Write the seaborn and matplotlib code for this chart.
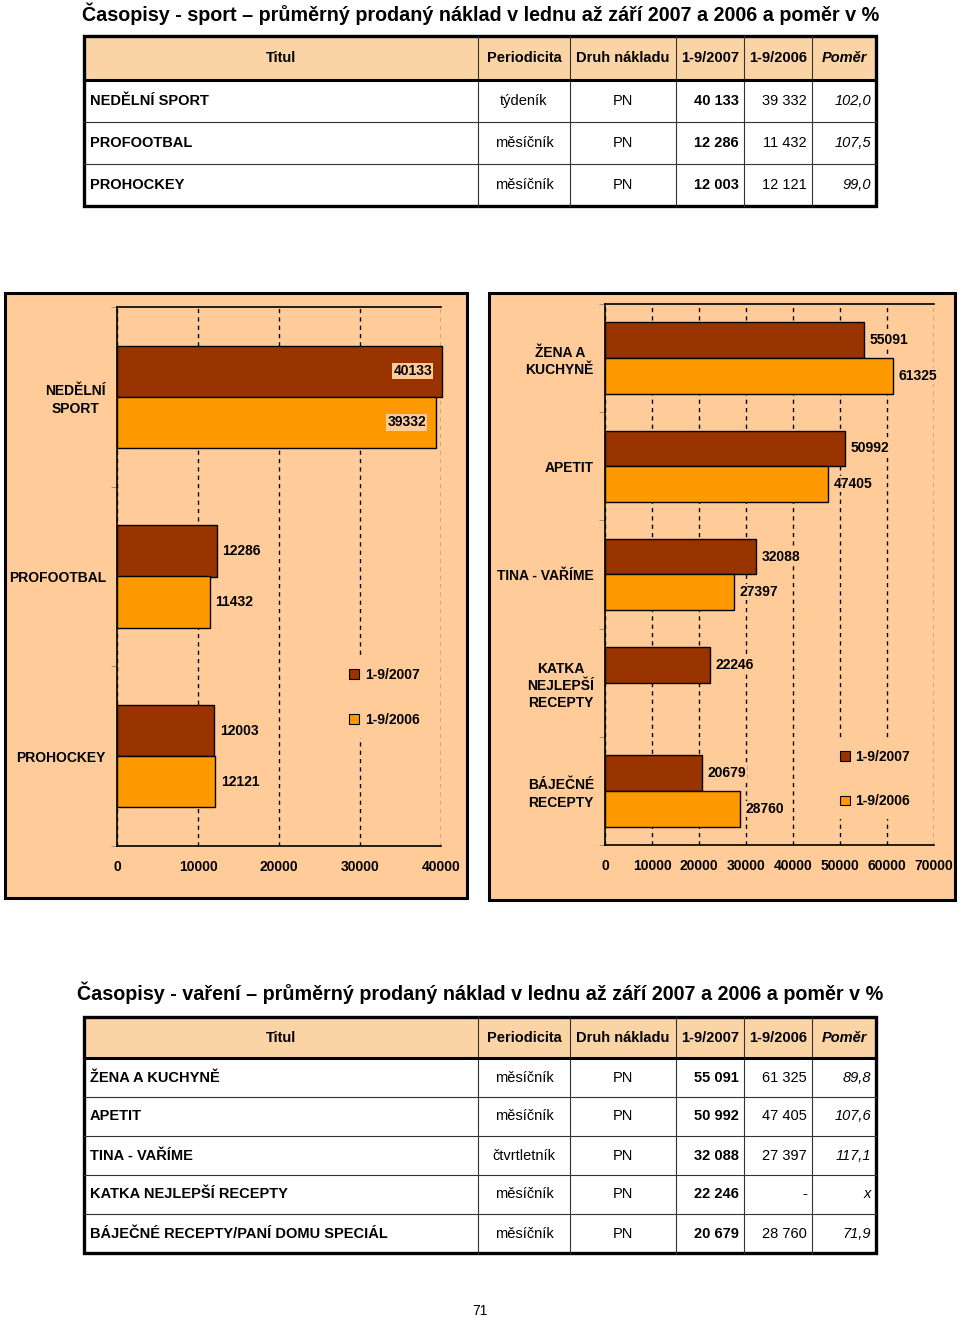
import matplotlib
matplotlib.use('Agg')
import matplotlib.pyplot as plt
from matplotlib.patches import Rectangle, Patch
import numpy as np
import pandas as pd
import seaborn as sns

# data
sport_titles = ['NEDĚLNÍ SPORT', 'PROFOOTBAL', 'PROHOCKEY']
sport_labels = ['NEDĚLNÍ\nSPORT', 'PROFOOTBAL', 'PROHOCKEY']
sport_period = ['týdeník', 'měsíčník', 'měsíčník']
sport_2007 = [40133, 12286, 12003]
sport_2006 = [39332, 11432, 12121]

food_titles = ['ŽENA A KUCHYNĚ', 'APETIT', 'TINA - VAŘÍME',
               'KATKA NEJLEPŠÍ RECEPTY', 'BÁJEČNÉ RECEPTY/PANÍ DOMU SPECIÁL']
food_labels = ['ŽENA A\nKUCHYNĚ', 'APETIT', 'TINA - VAŘÍME',
               'KATKA\nNEJLEPŠÍ\nRECEPTY', 'BÁJEČNÉ\nRECEPTY']
food_period = ['měsíčník', 'měsíčník', 'čtvrtletník', 'měsíčník', 'měsíčník']
food_2007 = [55091, 50992, 32088, 22246, 20679]
food_2006 = [61325, 47405, 27397, None, 28760]

periods = ['1-9/2007', '1-9/2006']
header = ['Titul', 'Periodicita', 'Druh nákladu', '1-9/2007', '1-9/2006', 'Poměr']
title_sport = 'Časopisy - sport – průměrný prodaný náklad v lednu až září 2007 a 2006 a poměr v %'
title_food = 'Časopisy - vaření – průměrný prodaný náklad v lednu až září 2007 a 2006 a poměr v %'

W, H = 960, 1318
FONT = ['Liberation Sans', 'DejaVu Sans']
dark = '#993300'
orange = '#FF9900'
panel = '#FFCC99'
head_fill = '#FBD4A6'
col_edges = [84, 478, 570, 676, 744, 812, 876]

plt.rcParams['font.family'] = FONT

fig = plt.figure(figsize=(W / 100, H / 100), dpi=100)
page = fig.add_axes([0, 0, 1, 1])
page.set_xlim(0, W)
page.set_ylim(H, 0)
page.axis('off')


def fig_rect(x0, y0, x1, y1):
    return [x0 / W, 1 - y1 / H, (x1 - x0) / W, (y1 - y0) / H]


def fmt(v):
    return '-' if v is None else f'{v:,}'.replace(',', ' ')


def ratio(a, b):
    return 'x' if b is None else f'{a / b * 100:.1f}'.replace('.', ',')


def draw_table(top, head_h, row_h, titles, period, v07, v06):
    n = len(titles)
    left, right = col_edges[0], col_edges[-1]
    bottom = top + head_h + n * row_h
    page.add_patch(Rectangle((left, top), right - left, head_h,
                             facecolor=head_fill, edgecolor='none'))
    for i in range(1, n):
        y = top + head_h + i * row_h
        page.plot([left, right], [y, y], color='#333333', lw=0.8)
    for x in col_edges[1:-1]:
        page.plot([x, x], [top, bottom], color='#333333', lw=0.8)
    page.plot([left, right], [top + head_h] * 2, color='black', lw=2.2)
    page.add_patch(Rectangle((left, top), right - left, bottom - top,
                             fill=False, edgecolor='black', lw=2.4))

    yc = top + head_h / 2
    for j, h in enumerate(header):
        xc = (col_edges[j] + col_edges[j + 1]) / 2
        page.text(xc, yc, h, ha='center', va='center', fontsize=10.5,
                  fontweight='bold', style='italic' if h == 'Poměr' else 'normal')

    for i in range(n):
        y = top + head_h + (i + 0.5) * row_h
        page.text(90, y, titles[i], ha='left', va='center', fontsize=10.5, fontweight='bold')
        page.text((col_edges[1] + col_edges[2]) / 2, y, period[i], ha='center', va='center', fontsize=10.5)
        page.text((col_edges[2] + col_edges[3]) / 2, y, 'PN', ha='center', va='center', fontsize=10.5)
        page.text(col_edges[4] - 5, y, fmt(v07[i]), ha='right', va='center', fontsize=10.5, fontweight='bold')
        page.text(col_edges[5] - 5, y, fmt(v06[i]), ha='right', va='center', fontsize=10.5)
        page.text(col_edges[6] - 5, y, ratio(v07[i], v06[i]), ha='right', va='center',
                  fontsize=10.5, style='italic')


def draw_chart(rect, labels, v07, v06, xmax, width, leg_anchor):
    n = len(labels)
    ax = fig.add_axes(fig_rect(*rect))
    df = pd.DataFrame({
        'titul': labels * 2,
        'obdobi': [periods[0]] * n + [periods[1]] * n,
        'naklad': pd.array(list(v07) + list(v06), dtype='Float64').astype(float),
    })
    sns.barplot(data=df, x='naklad', y='titul', hue='obdobi', hue_order=periods,
                order=labels, palette=[dark, orange], orient='h', width=width,
                saturation=1, errorbar=None, edgecolor='black', linewidth=1, ax=ax)

    box = dict(boxstyle='square,pad=0.08', facecolor=panel, edgecolor='none')
    for cont in ax.containers:
        for bar in cont:
            w = bar.get_width()
            if not np.isfinite(w) or w <= 0:
                continue
            bar.set_clip_on(False)
            y = bar.get_y() + bar.get_height() / 2
            if w > 0.9 * xmax:
                ax.annotate(f'{int(w)}', (w, y), xytext=(-7, 0), textcoords='offset points',
                            ha='right', va='center', fontsize=10, fontweight='bold',
                            bbox=box, annotation_clip=False)
            else:
                ax.annotate(f'{int(w)}', (w, y), xytext=(4, 0), textcoords='offset points',
                            ha='left', va='center', fontsize=10, fontweight='bold',
                            bbox=box, annotation_clip=False)

    ax.set_xlim(0, xmax)
    ax.set_ylim(n - 0.5, -0.5)
    ax.set_xticks(range(0, xmax + 1, 10000))
    ax.set_yticks(np.arange(-0.5, n), minor=True)
    ax.set_facecolor('none')
    ax.set_axisbelow(True)
    ax.xaxis.grid(True, linestyle=(0, (3, 3)), color='black', linewidth=1)
    ax.yaxis.grid(False)
    ax.spines['right'].set_visible(False)
    for s in ['left', 'top', 'bottom']:
        ax.spines[s].set_color('black')
        ax.spines[s].set_linewidth(1.2)
    ax.set_xlabel('')
    ax.set_ylabel('')
    ax.tick_params(axis='x', length=0, pad=10, labelsize=10)
    ax.tick_params(axis='y', which='major', length=0, pad=8, labelsize=10)
    ax.tick_params(axis='y', which='minor', length=4, color='#888888')
    for t in ax.get_xticklabels() + ax.get_yticklabels():
        t.set_fontweight('bold')
    for t in ax.get_yticklabels():
        t.set_multialignment('center')
        t.set_linespacing(1.3)

    handles = [Patch(facecolor=c, edgecolor='black', linewidth=0.8) for c in [dark, orange]]
    ax.legend(handles, periods, loc='center left', bbox_to_anchor=leg_anchor,
              frameon=True, facecolor=panel, edgecolor='none', framealpha=1,
              handlelength=0.7, handleheight=0.7, handletextpad=0.4,
              labelspacing=2.2, borderpad=0.8, borderaxespad=0,
              prop={'weight': 'bold', 'size': 10})
    return ax


# top title and table
page.text(82, 14, title_sport, ha='left', va='center', fontsize=14.25, fontweight='bold')
draw_table(36, 44, 42, sport_titles, sport_period, sport_2007, sport_2006)

# chart panels
page.add_patch(Rectangle((5, 293), 462, 605, facecolor=panel, edgecolor='black', lw=2.2))
page.add_patch(Rectangle((489, 293), 466, 607, facecolor=panel, edgecolor='black', lw=2.2))

draw_chart((117, 307, 441, 846), sport_labels, sport_2007, sport_2006, 40000, 0.57, (0.683, 0.276))
draw_chart((605, 304, 934, 845), food_labels, food_2007, food_2006, 70000, 0.66, (0.68, 0.122))

# bottom title and table
page.text(77, 993, title_food, ha='left', va='center', fontsize=14.25, fontweight='bold')
draw_table(1017, 41, 39, food_titles, food_period, food_2007, food_2006)

page.text(480, 1311, '71', ha='center', va='center', fontsize=10)

fig.savefig('out.png', dpi=100)
